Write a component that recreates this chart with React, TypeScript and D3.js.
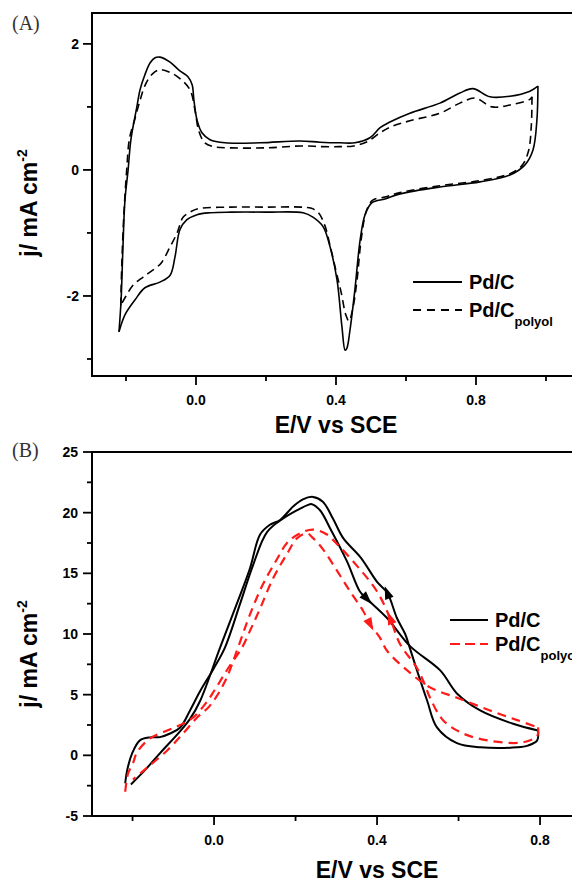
import React from 'react';
import * as d3 from 'd3';

type Pt = [number, number];

// ---- panel A: CV in acid (E / V vs SCE, j / mA cm-2) ----
const pdcAnodicA: Pt[] = [
  [-0.22, -2.57], [-0.214, -2.06], [-0.209, -1.27], [-0.203, -0.48], [-0.194, 0.0], [-0.186, 0.48],
  [-0.169, 1.0], [-0.16, 1.27], [-0.146, 1.51], [-0.131, 1.7], [-0.117, 1.78], [-0.103, 1.79],
  [-0.074, 1.71], [-0.046, 1.57], [-0.023, 1.48], [-0.011, 1.35], [-0.006, 1.11], [0.003, 0.79],
  [0.017, 0.59], [0.04, 0.48], [0.083, 0.43], [0.183, 0.43], [0.297, 0.46], [0.354, 0.44],
  [0.411, 0.43], [0.454, 0.43], [0.497, 0.51], [0.526, 0.67], [0.554, 0.76], [0.611, 0.9],
  [0.697, 1.06], [0.754, 1.22], [0.791, 1.29], [0.84, 1.16], [0.897, 1.17], [0.954, 1.25], [0.977, 1.33],
];
const pdcCathodicA: Pt[] = [
  [0.977, 1.33], [0.974, 0.79], [0.963, 0.32], [0.94, 0.08], [0.897, -0.08], [0.811, -0.19],
  [0.697, -0.27], [0.583, -0.38], [0.54, -0.46], [0.503, -0.52], [0.483, -0.71], [0.469, -1.11],
  [0.454, -1.9], [0.44, -2.54], [0.431, -2.83], [0.426, -2.86], [0.417, -2.49], [0.403, -1.75],
  [0.383, -1.22], [0.363, -0.9], [0.334, -0.75], [0.306, -0.68], [0.2, -0.67], [0.1, -0.67],
  [0.04, -0.68], [0.003, -0.71], [-0.026, -0.79], [-0.046, -0.95], [-0.06, -1.38], [-0.074, -1.67],
  [-0.103, -1.78], [-0.146, -1.87], [-0.174, -2.06], [-0.203, -2.3], [-0.22, -2.57],
];
const polyolAnodicA: Pt[] = [
  [-0.215, -2.15], [-0.212, -1.5], [-0.206, -0.7], [-0.198, 0.0], [-0.19, 0.5], [-0.175, 0.8],
  [-0.16, 1.1], [-0.145, 1.35], [-0.125, 1.52], [-0.103, 1.59], [-0.075, 1.55], [-0.046, 1.45],
  [-0.017, 1.27], [-0.003, 0.95], [0.008, 0.62], [0.025, 0.43], [0.05, 0.37], [0.1, 0.35],
  [0.2, 0.35], [0.3, 0.38], [0.36, 0.37], [0.41, 0.37], [0.45, 0.38], [0.49, 0.45], [0.526, 0.59],
  [0.555, 0.68], [0.611, 0.78], [0.697, 0.9], [0.754, 1.06], [0.797, 1.14], [0.846, 1.0],
  [0.897, 1.03], [0.954, 1.12], [0.96, 1.16],
];
const polyolCathodicA: Pt[] = [
  [0.96, 1.16], [0.958, 0.7], [0.95, 0.3], [0.93, 0.06], [0.897, -0.06], [0.811, -0.17],
  [0.697, -0.25], [0.583, -0.36], [0.54, -0.43], [0.505, -0.48], [0.487, -0.65], [0.472, -1.1],
  [0.46, -1.75], [0.448, -2.2], [0.437, -2.4], [0.428, -2.3], [0.415, -1.95], [0.4, -1.6],
  [0.383, -1.2], [0.368, -0.88], [0.35, -0.68], [0.33, -0.61], [0.3, -0.59], [0.2, -0.59],
  [0.1, -0.59], [0.003, -0.62], [-0.02, -0.68], [-0.037, -0.75], [-0.054, -1.0], [-0.074, -1.22],
  [-0.097, -1.46], [-0.111, -1.54], [-0.151, -1.7], [-0.18, -1.83], [-0.2, -2.0], [-0.215, -2.15],
];

// ---- panel B: ethanol oxidation ----
const pdcForwardB: Pt[] = [
  [-0.218, -2.3], [-0.213, -1.2], [-0.201, 0.16], [-0.182, 1.23], [-0.157, 1.48], [-0.133, 1.5],
  [-0.108, 1.8], [-0.083, 2.3], [-0.059, 3.7], [-0.034, 5.3], [0.0, 7.2], [0.027, 8.9],
  [0.064, 12.5], [0.096, 15.7], [0.13, 18.4], [0.169, 19.5], [0.204, 20.2], [0.228, 20.6],
  [0.24, 20.7], [0.26, 20.2], [0.285, 18.7], [0.326, 16.0], [0.358, 13.5], [0.375, 12.9],
  [0.425, 11.3], [0.481, 9.0], [0.555, 7.0], [0.596, 5.1], [0.653, 3.7], [0.734, 2.6], [0.795, 2.05],
];
const pdcBackwardB: Pt[] = [
  [0.795, 2.05], [0.793, 1.23], [0.77, 0.8], [0.744, 0.66], [0.653, 0.66], [0.596, 1.0],
  [0.547, 2.3], [0.523, 4.5], [0.498, 7.0], [0.479, 9.0], [0.469, 10.0], [0.449, 11.3],
  [0.425, 13.4], [0.4, 14.3], [0.36, 16.3], [0.317, 17.9], [0.292, 19.5], [0.267, 20.9],
  [0.243, 21.3], [0.218, 21.1], [0.194, 20.5], [0.162, 19.4], [0.137, 19.0], [0.113, 18.2],
  [0.088, 15.4], [0.056, 12.5], [0.015, 8.9], [-0.034, 4.5], [-0.059, 3.0], [-0.083, 2.0],
  [-0.133, 0.16], [-0.169, -1.2], [-0.204, -2.4],
];
const polyolForwardB: Pt[] = [
  [-0.218, -3.0], [-0.211, -1.5], [-0.199, -0.66], [-0.189, 0.25], [-0.157, 1.4], [-0.115, 2.05],
  [-0.083, 2.5], [-0.052, 3.1], [-0.02, 4.3], [0.0, 5.3], [0.035, 7.2], [0.069, 8.9], [0.09, 10.4],
  [0.113, 12.1], [0.145, 14.6], [0.179, 16.6], [0.204, 17.9], [0.228, 18.3], [0.243, 17.9],
  [0.267, 17.0], [0.302, 15.2], [0.334, 13.5], [0.366, 11.9], [0.383, 10.8], [0.407, 9.7],
  [0.425, 8.6], [0.474, 7.0], [0.53, 5.6], [0.596, 4.75], [0.677, 3.7], [0.744, 2.9], [0.795, 2.3],
];
const polyolBackwardB: Pt[] = [
  [0.795, 2.3], [0.793, 1.6], [0.758, 1.07], [0.677, 1.2], [0.611, 1.8], [0.562, 2.9],
  [0.53, 4.75], [0.515, 6.0], [0.498, 7.2], [0.456, 9.2], [0.432, 11.3], [0.4, 13.5],
  [0.341, 16.0], [0.302, 17.4], [0.277, 18.2], [0.243, 18.6], [0.211, 18.3], [0.179, 17.5],
  [0.155, 16.2], [0.12, 14.1], [0.088, 11.6], [0.059, 8.9], [0.027, 6.1], [-0.01, 4.1],
  [-0.042, 3.1], [-0.076, 1.8], [-0.115, 0.4], [-0.164, -1.0], [-0.199, -2.0],
];

// scan-direction arrows in B (potential where the head sits)
const arrowPotentialsB = [0.375, 0.425, 0.383, 0.432];

const xMajor = [0.0, 0.4, 0.8];
const xMinorA = [-0.2, 0.2, 0.6, 1.0];
const xMinorB = [-0.2, 0.2, 0.6];
const yMajorA = [-2, 0, 2];
const yMinorA = [-3, -1, 1];
const yMajorB = [-5, 0, 5, 10, 15, 20, 25];
const yMinorB = [-2.5, 2.5, 7.5, 12.5, 17.5, 22.5];

const seriesNames = ['Pd/C', 'Pd/C'];
const seriesSub = ['', 'polyol'];
const panelLabels = ['(A)', '(B)'];
const xTitle = 'E/V vs SCE';

const SANS = '"Liberation Sans", Arial, sans-serif';
const RED = '#ff1a1a';

const fmtX = d3.format('.1f');

function arrowHead(branch: Pt[], e: number, x: d3.ScaleLinear<number, number>, y: d3.ScaleLinear<number, number>) {
  for (let i = 0; i < branch.length - 1; i++) {
    const [e0, j0] = branch[i];
    const [e1, j1] = branch[i + 1];
    if (e0 !== e1 && (e - e0) * (e - e1) <= 0) {
      const t = (e - e0) / (e1 - e0);
      const px = x(e), py = y(j0 + t * (j1 - j0));
      let dx = x(e1) - x(e0), dy = y(j1) - y(j0);
      const L = Math.hypot(dx, dy);
      dx /= L; dy /= L;
      const nx = -dy, ny = dx;
      const tip = [px + dx * 7, py + dy * 7];
      const b = [px - dx * 6, py - dy * 6];
      return `M${tip[0]},${tip[1]}L${b[0] + nx * 4.5},${b[1] + ny * 4.5}L${b[0] - nx * 4.5},${b[1] - ny * 4.5}Z`;
    }
  }
  return '';
}

type AxisProps = {
  x: d3.ScaleLinear<number, number>;
  y: d3.ScaleLinear<number, number>;
  xMinor: number[];
  yMajor: number[];
  yMinor: number[];
  top: number;
  left: number;
  bottom: number;
  label: string;
  labelY: number;
  tickLabelY: number;
  titleY: number;
  yTitleY: number;
  yLabelX: number;
};

function Frame(p: AxisProps) {
  return (
    <g>
      <rect x={p.left} y={p.top} width={600} height={p.bottom - p.top} fill="none" stroke="#000" strokeWidth={2} />
      {xMajor.map(v => (
        <g key={'xM' + v}>
          <line x1={p.x(v)} x2={p.x(v)} y1={p.bottom} y2={p.bottom + 9} stroke="#000" strokeWidth={1.8} />
          <text x={p.x(v)} y={p.tickLabelY} textAnchor="middle" fontFamily={SANS} fontWeight="bold" fontSize={14}>{fmtX(v)}</text>
        </g>
      ))}
      {p.xMinor.map(v => (
        <line key={'xm' + v} x1={p.x(v)} x2={p.x(v)} y1={p.bottom} y2={p.bottom + 5} stroke="#000" strokeWidth={1.8} />
      ))}
      {p.yMajor.map(v => (
        <g key={'yM' + v}>
          <line x1={p.left - 9} x2={p.left} y1={p.y(v)} y2={p.y(v)} stroke="#000" strokeWidth={1.8} />
          <text x={p.yLabelX} y={p.y(v) + 5} textAnchor="end" fontFamily={SANS} fontWeight="bold" fontSize={14}>{String(v)}</text>
        </g>
      ))}
      {p.yMinor.map(v => (
        <line key={'ym' + v} x1={p.left - 5} x2={p.left} y1={p.y(v)} y2={p.y(v)} stroke="#000" strokeWidth={1.8} />
      ))}
      <text x={(p.x(0) + p.x(0.8)) / 2} y={p.titleY} textAnchor="middle" fontFamily={SANS} fontWeight="bold" fontSize={23}>{xTitle}</text>
      <text transform={`translate(37,${p.yTitleY}) rotate(-90)`} textAnchor="middle" fontFamily={SANS} fontWeight="bold" fontSize={23}>
        j/ mA cm<tspan fontSize={14} dy={-10}>-2</tspan>
      </text>
      <text x={12} y={p.labelY} fontFamily='"Liberation Serif", "Times New Roman", serif' fontSize={20} fill="#333">{p.label}</text>
    </g>
  );
}

function Legend({ x, y, gap, colors, dashes, lineLen }: { x: number; y: number; gap: number; colors: string[]; dashes: string[]; lineLen: number }) {
  return (
    <g>
      {seriesNames.map((name, i) => (
        <g key={i} transform={`translate(${x},${y + i * gap})`}>
          <line x1={0} x2={lineLen} y1={0} y2={0} stroke={colors[i]} strokeWidth={2} strokeDasharray={dashes[i]} />
          <text x={lineLen + 7} y={7} fontFamily={SANS} fontWeight="bold" fontSize={20}>
            {name}
            {seriesSub[i] && <tspan fontSize={13} dy={9}>{seriesSub[i]}</tspan>}
          </text>
        </g>
      ))}
    </g>
  );
}

export default function App() {
  // panel A scales
  const xA = d3.scaleLinear().domain([-0.3, 1.1]).range([91, 581]);
  const yA = d3.scaleLinear().domain([-3.27, 2.49]).range([376, 13]);
  // panel B scales
  const xB = d3.scaleLinear().domain([-0.3, 0.9]).range([91.8, 580.8]);
  const yB = d3.scaleLinear().domain([-5, 25]).range([816, 452]);

  const lineA = d3.line<Pt>().x(d => xA(d[0])).y(d => yA(d[1])).curve(d3.curveCatmullRom.alpha(0.5));
  const lineB = d3.line<Pt>().x(d => xB(d[0])).y(d => yB(d[1])).curve(d3.curveCatmullRom.alpha(0.5));

  const arrowBranches = [pdcForwardB, pdcBackwardB, polyolForwardB, polyolBackwardB];
  const arrowColors = ['#000', '#000', RED, RED];

  return (
    <svg width={572} height={883} style={{ position: 'absolute', left: 0, top: 0, background: '#fff' }}>
      <rect width={572} height={883} fill="#fff" />
      <Frame x={xA} y={yA} xMinor={xMinorA} yMajor={yMajorA} yMinor={yMinorA} top={13} left={92} bottom={376}
        label={panelLabels[0]} labelY={30} tickLabelY={405} titleY={433} yTitleY={203} yLabelX={79} />
      <Frame x={xB} y={yB} xMinor={xMinorB} yMajor={yMajorB} yMinor={yMinorB} top={452} left={92} bottom={816}
        label={panelLabels[1]} labelY={457} tickLabelY={845} titleY={878} yTitleY={654} yLabelX={78} />

      {[pdcAnodicA, pdcCathodicA].map((d, i) => (
        <path key={'sa' + i} d={lineA(d) || ''} fill="none" stroke="#000" strokeWidth={1.6} />
      ))}
      {[polyolAnodicA, polyolCathodicA].map((d, i) => (
        <path key={'da' + i} d={lineA(d) || ''} fill="none" stroke="#000" strokeWidth={1.6} strokeDasharray="8,5" />
      ))}

      {[pdcForwardB, pdcBackwardB].map((d, i) => (
        <path key={'sb' + i} d={lineB(d) || ''} fill="none" stroke="#000" strokeWidth={2} />
      ))}
      {[polyolForwardB, polyolBackwardB].map((d, i) => (
        <path key={'db' + i} d={lineB(d) || ''} fill="none" stroke={RED} strokeWidth={2.2} strokeDasharray="9,6" />
      ))}
      {arrowPotentialsB.map((e, i) => (
        <path key={'ar' + i} d={arrowHead(arrowBranches[i], e, xB, yB)} fill={arrowColors[i]} />
      ))}

      <Legend x={413} y={282} gap={28} colors={['#000', '#000']} dashes={['', '8,6']} lineLen={49} />
      <Legend x={450} y={620} gap={24} colors={['#000', RED]} dashes={['', '10,5']} lineLen={38} />
    </svg>
  );
}
